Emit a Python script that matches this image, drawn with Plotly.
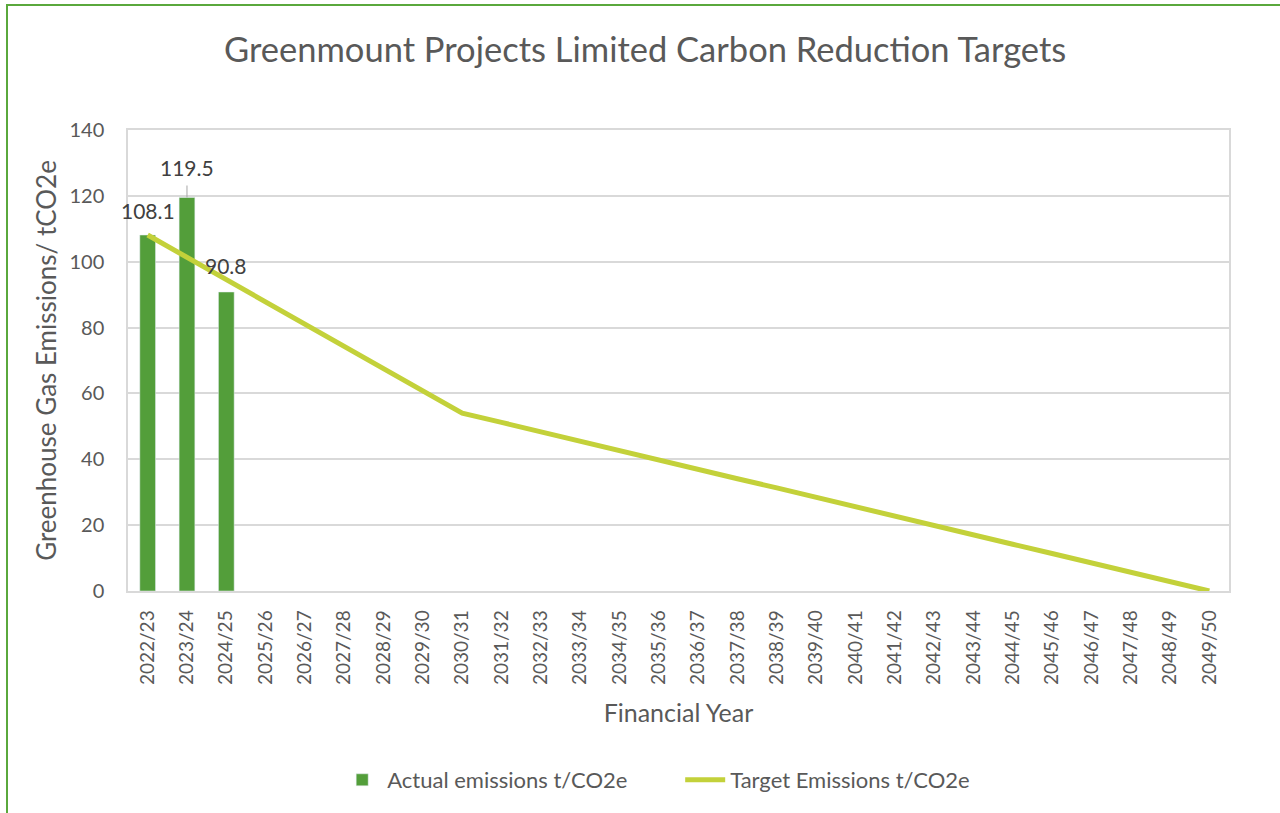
import plotly.graph_objects as go

years = ["2022/23", "2023/24", "2024/25", "2025/26", "2026/27", "2027/28", "2028/29",
         "2029/30", "2030/31", "2031/32", "2032/33", "2033/34", "2034/35", "2035/36",
         "2036/37", "2037/38", "2038/39", "2039/40", "2040/41", "2041/42", "2042/43",
         "2043/44", "2044/45", "2045/46", "2046/47", "2047/48", "2048/49", "2049/50"]

actual_years = ["2022/23", "2023/24", "2024/25"]
actual = [108.1, 119.5, 90.8]

target = [108.1, 101.3, 94.6, 87.8, 81.1, 74.3, 67.6, 60.8, 54.0, 51.2, 48.3, 45.5,
          42.6, 39.8, 36.9, 34.1, 31.3, 28.4, 25.6, 22.7, 19.9, 17.1, 14.2, 11.4,
          8.5, 5.7, 2.8, 0.0]

FONT = "Lato, Carlito, Calibri, sans-serif"
GREY = "#595959"
BAR_C = "#539E3A"
LINE_C = "#C3D13A"

fig = go.Figure()
fig.add_trace(go.Bar(x=actual_years, y=actual, name="Actual emissions t/CO2e",
                     marker_color=BAR_C, width=0.4))
fig.add_trace(go.Scatter(x=years, y=target, mode="lines", name="Target Emissions t/CO2e",
                         line=dict(color=LINE_C, width=5)))

# data labels
offsets = [dict(xshift=0, yshift=25, showarrow=False),
           dict(showarrow=True, arrowhead=0, arrowcolor="#A6A6A6", arrowwidth=1,
                ax=0, ay=-30, startstandoff=4),
           dict(xshift=0, yshift=27, showarrow=False)]
for yr, v, o in zip(actual_years, actual, offsets):
    fig.add_annotation(x=yr, y=v, xref="x", yref="y", text=f"{v:.1f}",
                       font=dict(family=FONT, size=21, color="#404040"), **o)

# outer green border
fig.add_shape(type="rect", xref="paper", yref="paper", x0=-0.1099, x1=1.2,
              y0=-0.7, y1=1.2711, line=dict(color="#5AA83C", width=2))

fig.update_layout(
    width=1280, height=813,
    margin=dict(l=128, r=51, t=130, b=222),
    paper_bgcolor="white", plot_bgcolor="white",
    font=dict(family=FONT, color=GREY, size=19),
    title=dict(text="Greenmount Projects Limited Carbon Reduction Targets",
               x=0.504, xanchor="center", y=0.9385, yanchor="middle",
               font=dict(family=FONT, size=34.5, color=GREY)),
    showlegend=True,
    legend=dict(orientation="h", x=0.190, xanchor="left", y=-0.41, yanchor="middle",
                font=dict(family=FONT, size=22, color=GREY), itemwidth=40,
                entrywidth=288, entrywidthmode="pixels"),
)
fig.update_xaxes(type="category", categoryorder="array", categoryarray=years,
                 range=[-0.5, len(years) - 0.5],
                 tickangle=-90, tickfont=dict(family=FONT, size=19, color=GREY),
                 showline=True, linecolor="#D9D9D9", linewidth=1.5, mirror=True,
                 ticks="", showgrid=False, automargin=False, ticklabelstandoff=10,
                 title=dict(text="Financial Year", font=dict(family=FONT, size=25, color=GREY),
                            standoff=20))
fig.update_yaxes(range=[0, 140], dtick=20, tickfont=dict(family=FONT, size=20, color=GREY),
                 showline=True, linecolor="#D9D9D9", linewidth=1.5, mirror=True,
                 gridcolor="#D9D9D9", gridwidth=1.5, zeroline=False, ticks="",
                 ticklabelstandoff=18, automargin=False,
                 title=dict(text="Greenhouse Gas Emissions/ tCO2e",
                            font=dict(family=FONT, size=26, color=GREY), standoff=5))

fig.write_html("out.html", config={"displayModeBar": False},
               post_script="document.body.style.margin='0';")
